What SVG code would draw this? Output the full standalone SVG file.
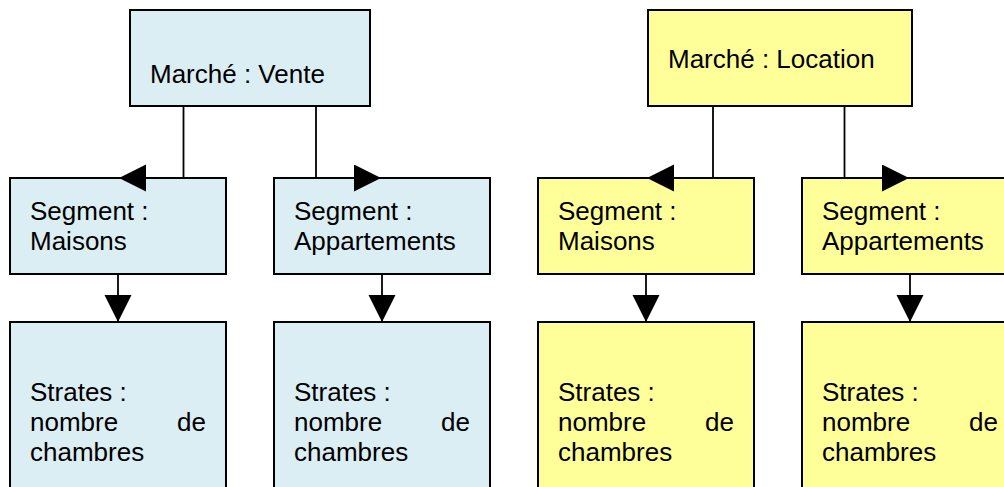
<svg xmlns="http://www.w3.org/2000/svg" width="1004" height="487" viewBox="0 0 1004 487">
<style>
  .blue { fill: #DBEEF4; stroke: #000; stroke-width: 2; }
  .yellow { fill: #FFFF99; stroke: #000; stroke-width: 2; }
  .lbl { font-family: "Liberation Sans", Arial, sans-serif; font-size: 26px; fill: #000; }
  .end { text-anchor: end; }
  .conn { fill: none; stroke: #000; stroke-width: 1.8; marker-end: url(#arrow); }
</style>
<defs>
  <marker id="arrow" markerUnits="userSpaceOnUse" markerWidth="28" markerHeight="28" refX="27" refY="13.5" orient="auto" viewBox="0 0 28 28">
    <path d="M0,0 L27,13.5 L0,27 Z" fill="#000"/>
  </marker>
</defs>
<rect width="1004" height="487" fill="#fff"/>

<g id="vente">
  <rect class="blue" x="130" y="10" width="240" height="96"/>
  <text class="lbl" x="150" y="83">Marché : Vente</text>
</g>
<g id="vente-maisons">
  <rect class="blue" x="10" y="178" width="216" height="96"/>
  <text class="lbl" x="30" y="220">Segment :</text>
  <text class="lbl" x="30" y="250">Maisons</text>
</g>
<g id="vente-appartements">
  <rect class="blue" x="274" y="178" width="216" height="96"/>
  <text class="lbl" x="294" y="220">Segment :</text>
  <text class="lbl" x="294" y="250">Appartements</text>
</g>
<g id="vente-maisons-strates">
  <rect class="blue" x="10" y="322" width="216" height="190"/>
  <text class="lbl" x="30" y="401">Strates :</text>
  <text class="lbl" x="30" y="431">nombre</text>
  <text class="lbl end" x="206" y="431">de</text>
  <text class="lbl" x="30" y="461">chambres</text>
</g>
<g id="vente-appartements-strates">
  <rect class="blue" x="274" y="322" width="216" height="190"/>
  <text class="lbl" x="294" y="401">Strates :</text>
  <text class="lbl" x="294" y="431">nombre</text>
  <text class="lbl end" x="470" y="431">de</text>
  <text class="lbl" x="294" y="461">chambres</text>
</g>

<g id="location">
  <rect class="yellow" x="648" y="10" width="264" height="96"/>
  <text class="lbl" x="668" y="68">Marché : Location</text>
</g>
<g id="location-maisons">
  <rect class="yellow" x="538" y="178" width="216" height="96"/>
  <text class="lbl" x="558" y="220">Segment :</text>
  <text class="lbl" x="558" y="250">Maisons</text>
</g>
<g id="location-appartements">
  <rect class="yellow" x="802" y="178" width="216" height="96"/>
  <text class="lbl" x="822" y="220">Segment :</text>
  <text class="lbl" x="822" y="250">Appartements</text>
</g>
<g id="location-maisons-strates">
  <rect class="yellow" x="538" y="322" width="216" height="190"/>
  <text class="lbl" x="558" y="401">Strates :</text>
  <text class="lbl" x="558" y="431">nombre</text>
  <text class="lbl end" x="734" y="431">de</text>
  <text class="lbl" x="558" y="461">chambres</text>
</g>
<g id="location-appartements-strates">
  <rect class="yellow" x="802" y="322" width="216" height="190"/>
  <text class="lbl" x="822" y="401">Strates :</text>
  <text class="lbl" x="822" y="431">nombre</text>
  <text class="lbl end" x="998" y="431">de</text>
  <text class="lbl" x="822" y="461">chambres</text>
</g>

<g id="connectors">
  <path class="conn" d="M183.5,106 V178 H119"/>
  <path class="conn" d="M316,106 V178 H381"/>
  <path class="conn" d="M118,274 V322"/>
  <path class="conn" d="M382,274 V322"/>
  <path class="conn" d="M713,106 V178 H647"/>
  <path class="conn" d="M844.5,106 V178 H909"/>
  <path class="conn" d="M646,274 V322"/>
  <path class="conn" d="M910,274 V322"/>
</g>
</svg>
